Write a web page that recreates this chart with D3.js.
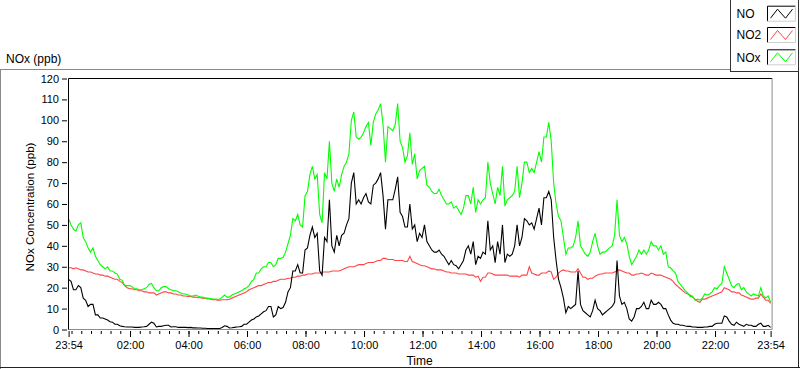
<!DOCTYPE html>
<html><head><meta charset="utf-8">
<script src="https://cdn.jsdelivr.net/npm/d3@7"></script>
<style>
body{margin:0;background:#fff}
svg{display:block}
text{font-family:"Liberation Sans",Arial,sans-serif;fill:#000}
</style>
</head><body><svg id="c" width="800" height="369"></svg>
<script>
// ---------- data ----------
const seriesNames = ["NO", "NO2", "NOx"];
const seriesColors = ["#000000", "#ff4646", "#00ff00"];
const startTime = "23:54";      // first sample (day 1)
const stepMinutes = 5;          // sampling interval of the arrays below
const noValues = [
  24,23,19,19,21,20,15,14,11,12,12,7,7,5.5,5.5,5,4.5,3.7,3.5,2.5,
  2.5,1.8,1.5,1.3,1.2,1.2,1.2,1,1,1,1.2,1.3,1.5,2.5,3.5,3,1.2,1.5,1.5,1.8,
  2,2,1.2,1.3,1.3,1,1,1,1,0.9,1,0.8,0.8,0.7,0.7,0.6,0.6,0.5,0.5,0.5,
  0.5,0.5,0.5,1,1.8,1.5,0.7,0.8,1,1.2,1.3,1.5,2.5,2.5,3.5,4.5,5,6,6.5,7.5,
  8.5,9,11,11,6,7,11,10,10.5,13,18,20,28,28,31,27,27,38,39,45,
  49,44,46,28,26,44,42,62,40,37,45,40,45,46,50,53,70,75,60,62,
  60,63,65,61,60,69,70,72,75,64,48,62,62,62,67,73,56,54,49,49,
  60,48,50,42,46,44,50,42,40,38,37,37,38,36,35,33,31,33,31,30.5,
  29,31,33,38,40,36,42,31,35,34,37,36,52,38,40,32,42,36,50,32,
  36,35,36,40,50,40,44,53,52,50,51,48,53,58,50,63,63,66,62,44,
  33,24,20,15,8,11,10,11,12,28,12,9,8,7,6,9,14,10,9,7,
  8,9,10,11,13,33,16,12,13,10,5,4,6,10,10,11,13,10,10,14,
  12,12,13,12,10,10,7,4.5,3,2.5,2.5,2,2,1.7,1.5,1.5,1.2,1.2,1,1,
  1,1.2,1.2,1.5,1.5,2.5,3,3,3,6.5,6,4,2.5,2,3.5,2.5,2,1.5,2.5,2,
  2,1.5,1.5,2.5,3,1.5,1.5,2,1
];
const no2Values = [
  29.5,29.5,29,29.5,29,28.5,28.5,28,27.5,27.5,27,26.5,26.5,26,26,25.5,25.5,25,24.5,24,
  24,23,22.5,21,20,19.5,19.5,19,19,18.5,18.5,18,18,17.5,17.5,17.5,16.5,17,17.5,18,
  18,17.5,17.5,17,17,16.5,16.5,16,16,15.8,15.8,15.5,15.5,15.2,15.2,15,15,14.6,14.6,14.3,
  14.3,14,14,14.2,14.2,14.3,14.5,15,15.5,16,16.5,17,17.5,18,19,19.5,20,20.5,21,21,
  21.5,22,22.5,22.5,23,23,23.5,24,24,24,24.5,24.5,25,25,25.5,25.5,26,26,26.5,26.5,
  26.5,27,27,27,27.5,27.5,27.5,27.5,28,28,28,28,28.5,29,29.5,30,30,30,30.5,31,
  31,31,31.5,32,32,32,32.5,33,33,34,34,33.5,33.5,33.5,33,33,33,33,32.5,32.5,
  35,32.5,32,31.5,31,30.5,30.5,30,29.5,29,29,28.5,28.5,28.5,28,27.5,27.5,27,27,27,
  26.5,26.5,26.5,26.5,26,26,26,25,25.5,23,25,25,27,27,26.5,26,26,26,26,26,
  26,25.5,25.5,25.5,25.5,25,26,26,26,30,27,26.5,26,26,27,27,27,28,27.5,24,
  25,27,28,28.5,28,28,27.5,27.5,27.5,29,27,25,25,24,24.5,24.5,25.5,26,26.5,26.5,
  27,27,27,27,27.5,28,28.5,28,27.5,27,27,26,26,26.5,26.5,27,26.5,26,26,27,
  26.5,26,26,26,25.5,25,24.5,24,23,21.5,20.5,19.5,18.5,17.5,17,16.5,15.5,14.5,13.5,13,
  14.5,14.5,15,15.5,16,16.5,17,17.5,18,20,19.5,19,18,18,17.5,17.5,16.5,16,15.5,15,
  14.5,14.5,15,15,17,15.5,14,14,12.5
];
const noxValues = [
  53,50,48,47,50,51,44,42,39,37,39,35,33,31,30,29,30,28,28,27,
  26.5,24,23.5,21,21,21,20.5,19.5,19.5,19,19,19.5,20,21.5,22,20,18.5,18.5,20,20.5,
  20.5,19.5,19,18.5,18.5,18,17.5,17,17,16.5,16,16,16.5,16,15.5,15.5,15,15,14.8,14.6,
  14.5,14.4,14.5,15.5,16.5,15.5,15.5,16.5,17,17.5,18,18.5,19.5,20,21,23,24,27,27,29,
  30,30,32,32,30,31,34,34,34.5,37,41,45,53,52,55,50,49,64,66,74,
  78,72,74,55,51,75,72,90,70,66,72,68,74,78,80,84,100,104,92,91,
  92,94,97,99,88,99,103,105,108,98,80,97,96,95,98,108,90,87,80,83,
  94,79,84,72,76,77,78,69,68,66,65,65,67,64,62,60,60,61,58,59,
  57,55,58,64,64,60,68,56,62,60,62,63,80,70,65,60,68,64,78,59,
  62,63,64,66,78,63,70,80,80,75,77,75,80,85,80,92,92,99,90,70,
  60,54,52,44,36,39,39,40,44,52,40,38,36,35,37,42,46,40,36,37,
  37,38,39,40,45,62,45,42,44,41,35,31,33,35,38,36,38,36,38,42,
  40,40,38,40,36,37,30,29.5,28,27,23,21.5,20,18.5,17.5,15.7,16,14,14.5,14,
  15,17,16.5,17,18,20,19.5,21,22,30,27,24,21,20,21.5,22,19,20,18,17,
  16,17,16.5,16,20,16,15,16,13
];
const yTicks = [0,10,20,30,40,50,60,70,80,90,100,110,120];
const xTickLabels = ["23:54","02:00","04:00","06:00","08:00","10:00","12:00","14:00","16:00","18:00","20:00","22:00","23:54"];
const minorTickMinutes = 20;
const yTitle = "NOx Concentration (ppb)";
const xTitle = "Time";
const chartTitle = "NOx (ppb)";

// ---------- helpers ----------
function parseHM(s, day) { const [h, m] = s.split(":").map(Number); return new Date(2000, 0, day, h, m); }
const t0 = parseHM(startTime, 1);
const tEnd = d3.timeDay.offset(t0, 1);
const majorTicks = xTickLabels.map((s, i) => i === 0 ? t0 : parseHM(s, 2));
const minorTicks = d3.timeMinute.every(minorTickMinutes).range(d3.timeMinute.offset(t0, 1), tEnd);

const svg = d3.select("#c");
const L = 68.6, R = 770.6, T = 78.5, B = 329.5;
const x = d3.scaleTime().domain([t0, tEnd]).range([L, R]);
const y = d3.scaleLinear().domain([0, 120]).range([B, T]);

// outer frame
svg.append("line").attr("x1", 0).attr("x2", 731).attr("y1", 69.5).attr("y2", 69.5).attr("stroke", "#8a8a8a");
svg.append("line").attr("x1", 0.5).attr("x2", 0.5).attr("y1", 69.5).attr("y2", 369).attr("stroke", "#8a8a8a");
svg.append("line").attr("x1", 0).attr("x2", 800).attr("y1", 367.5).attr("y2", 367.5).attr("stroke", "#222");
svg.append("line").attr("x1", 798.5).attr("x2", 798.5).attr("y1", 71).attr("y2", 368).attr("stroke", "#222");

// title
svg.append("text").attr("x", 6).attr("y", 63).attr("font-size", 12).text(chartTitle);

// clip
svg.append("clipPath").attr("id", "plotclip").append("rect").attr("x", L).attr("y", T).attr("width", R - L + 1).attr("height", B - T);

// series
const seriesValues = [noValues, no2Values, noxValues];
const line = d3.line().x(d => x(d.t)).y(d => y(d.v));
const g = svg.append("g").attr("clip-path", "url(#plotclip)");
[1, 2, 0].forEach(k => {
  const pts = seriesValues[k].map((v, i) => ({ t: d3.timeMinute.offset(t0, i * stepMinutes), v }));
  g.append("path").datum(pts).attr("d", line).attr("fill", "none")
    .attr("stroke", seriesColors[k]).attr("stroke-width", 1.1).attr("stroke-linejoin", "miter");
});

// plot frame: top/left dark, bottom/right grey
svg.append("line").attr("x1", L - 0.1).attr("x2", R + 1.5).attr("y1", T).attr("y2", T).attr("stroke", "#000");
svg.append("line").attr("x1", 68.5).attr("x2", 68.5).attr("y1", T).attr("y2", B + 0.5).attr("stroke", "#000");
svg.append("line").attr("x1", 68.5).attr("x2", R + 1.5).attr("y1", B).attr("y2", B).attr("stroke", "#8c8c8c");
svg.append("line").attr("x1", R + 1.5).attr("x2", R + 1.5).attr("y1", T).attr("y2", B).attr("stroke", "#8c8c8c");

// y axis
const ya = svg.append("g").attr("transform", "translate(67,0)")
  .call(d3.axisLeft(y).tickValues(yTicks).tickSize(5).tickPadding(3).tickFormat(d3.format("d")));
ya.select(".domain").remove();
ya.selectAll("line").attr("stroke", "#000");
ya.selectAll("text").attr("font-size", 11).attr("font-family", null).attr("fill", "#000");

// x axis
const xa = svg.append("g").attr("transform", "translate(0,331)")
  .call(d3.axisBottom(x).tickValues(majorTicks).tickSize(6).tickPadding(4).tickFormat((d, i) => xTickLabels[i]));
xa.select(".domain").remove();
xa.selectAll("line").attr("stroke", "#000");
xa.selectAll("text").attr("font-size", 11).attr("font-family", null).attr("fill", "#000");
const xm = svg.append("g").attr("transform", "translate(0,331)")
  .call(d3.axisBottom(x).tickValues(minorTicks).tickSize(3).tickFormat(""));
xm.select(".domain").remove();
xm.selectAll("line").attr("stroke", "#000");

// axis titles
svg.append("text").attr("transform", "translate(34,207) rotate(-90)").attr("text-anchor", "middle")
  .attr("font-size", 11.6).text(yTitle);
svg.append("text").attr("x", (L + R) / 2).attr("y", 364.5).attr("text-anchor", "middle")
  .attr("font-size", 12).text(xTitle);

// legend
const lg = svg.append("g");
lg.append("rect").attr("x", 730.5).attr("y", -1).attr("width", 68).attr("height", 72.5)
  .attr("fill", "#fff").attr("stroke", "#333");
const legY = [13.7, 35, 57.3];
seriesNames.forEach((n, k) => {
  const cy = legY[k];
  lg.append("text").attr("x", 736.5).attr("y", cy).attr("dy", "0.36em").attr("font-size", 12).text(n);
  const bx = 767.5, by = cy - 7.5, bw = 28, bh = 15;
  lg.append("rect").attr("x", bx).attr("y", by).attr("width", bw).attr("height", bh).attr("fill", "#fff").attr("stroke", "none");
  lg.append("path").attr("d", `M${bx},${by + bh}V${by}H${bx + bw}`).attr("fill", "none").attr("stroke", "#000");
  lg.append("path").attr("d", `M${bx},${by + bh}H${bx + bw}V${by}`).attr("fill", "none").attr("stroke", "#d0d0d0");
  lg.append("path").attr("d", `M${bx + 3},${by + bh - 3}L${bx + 10},${by + 3}L${bx + 18},${by + bh - 3}L${bx + 25},${by + 3}`)
    .attr("fill", "none").attr("stroke", seriesColors[k]).attr("stroke-width", 1);
});
</script>
</body></html>
